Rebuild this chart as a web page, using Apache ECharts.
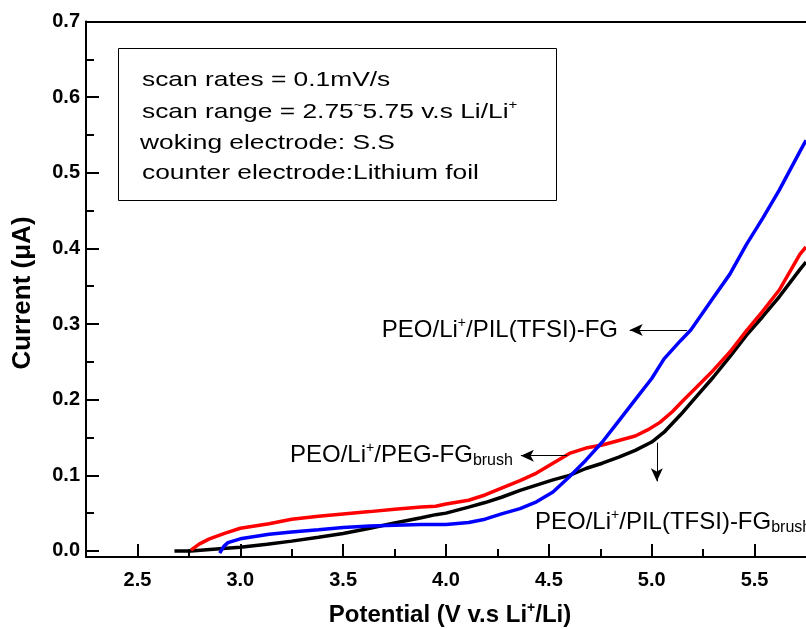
<!DOCTYPE html>
<html>
<head>
<meta charset="utf-8">
<script src="https://cdn.jsdelivr.net/npm/echarts@6/dist/echarts.min.js"></script>
<style>
  html, body { margin: 0; padding: 0; background: #fff; }
  #chart { width: 806px; height: 629px; }
</style>
</head>
<body>
<div id="chart"></div>
<script>
// [potential (V), current (uA)]
const blackPts = [
  [2.68, 0.000], [2.76, 0.000], [2.90, 0.003], [3.00, 0.005], [3.13, 0.009],
  [3.25, 0.013], [3.38, 0.018], [3.50, 0.023], [3.63, 0.030], [3.75, 0.037],
  [3.88, 0.044], [3.95, 0.048], [4.00, 0.050], [4.11, 0.058], [4.19, 0.064],
  [4.27, 0.071], [4.36, 0.080], [4.44, 0.087], [4.52, 0.094], [4.60, 0.100],
  [4.68, 0.109], [4.76, 0.116], [4.84, 0.124], [4.92, 0.133], [5.00, 0.144],
  [5.06, 0.157], [5.14, 0.180], [5.22, 0.205], [5.30, 0.230], [5.38, 0.257],
  [5.46, 0.285], [5.54, 0.310], [5.62, 0.336], [5.72, 0.372], [5.75, 0.382]
];
const redPts = [
  [2.76, 0.001], [2.80, 0.009], [2.85, 0.016], [2.92, 0.023], [3.00, 0.030],
  [3.07, 0.033], [3.14, 0.036], [3.25, 0.042], [3.38, 0.046], [3.50, 0.049],
  [3.63, 0.052], [3.75, 0.055], [3.88, 0.058], [3.95, 0.059], [4.00, 0.062],
  [4.11, 0.067], [4.19, 0.074], [4.27, 0.083], [4.36, 0.093], [4.44, 0.103],
  [4.52, 0.116], [4.60, 0.129], [4.68, 0.136], [4.76, 0.140], [4.84, 0.146],
  [4.92, 0.152], [4.98, 0.160], [5.04, 0.170], [5.10, 0.184], [5.16, 0.201],
  [5.22, 0.217], [5.30, 0.239], [5.38, 0.263], [5.46, 0.291], [5.54, 0.317],
  [5.62, 0.345], [5.72, 0.392], [5.75, 0.402]
];
const bluePts = [
  [2.90, -0.003], [2.92, 0.006], [2.94, 0.011], [3.00, 0.016], [3.07, 0.019],
  [3.14, 0.022], [3.25, 0.025], [3.38, 0.028], [3.50, 0.031], [3.63, 0.033],
  [3.75, 0.034], [3.88, 0.035], [4.00, 0.035], [4.11, 0.0375], [4.19, 0.042],
  [4.27, 0.049], [4.36, 0.056], [4.44, 0.065], [4.52, 0.078], [4.60, 0.098],
  [4.68, 0.120], [4.76, 0.144], [4.84, 0.172], [4.92, 0.200], [5.00, 0.228],
  [5.06, 0.254], [5.14, 0.278], [5.19, 0.292], [5.30, 0.335], [5.38, 0.366],
  [5.46, 0.405], [5.54, 0.440], [5.62, 0.477], [5.72, 0.528], [5.75, 0.543]
];

const xMajor = [2.5, 3.0, 3.5, 4.0, 4.5, 5.0, 5.5];
const xMinor = [2.75, 3.25, 3.75, 4.25, 4.75, 5.25];
const yMajor = [0, 0.1, 0.2, 0.3, 0.4, 0.5, 0.6, 0.7];
const yMinor = [0.05, 0.15, 0.25, 0.35, 0.45, 0.55, 0.65];

// arrows pointing from the curves to their labels: [from, to]
const arrows = [
  [[5.172, 0.292], [4.893, 0.292]],
  [[4.589, 0.126], [4.364, 0.126]],
  [[5.025, 0.143], [5.025, 0.092]]
];

const font = '"Liberation Sans", Arial, sans-serif';
const axisColor = '#000';
const xMin = 2.25, xMax = 5.75, yMin = -0.008, yMax = 0.7;

const lineBase = { color: axisColor, width: 2 };

const sup = { fontSize: 14, verticalAlign: 'top', lineHeight: 14, fontFamily: font };
const sub = { fontSize: 16, verticalAlign: 'bottom', lineHeight: 18, fontFamily: font };

function label(x, y, text, align) {
  return {
    type: 'text', x: x, y: y,
    style: {
      text: text, align: align || 'left', verticalAlign: 'middle', fill: '#000',
      font: '24px ' + font,
      rich: {
        a: { fontSize: 24, lineHeight: 28, fontFamily: font },
        sup: sup,
        sub: sub
      }
    }
  };
}

function boxLine(x, y, text) {
  return {
    type: 'text', x: x, y: y, scaleX: 1.255,
    style: {
      text: text, align: 'left', verticalAlign: 'middle', fill: '#000',
      font: '21px ' + font,
      rich: {
        a: { fontSize: 21, lineHeight: 25, fontFamily: font },
        sup: { fontSize: 12, verticalAlign: 'top', lineHeight: 12, fontFamily: font }
      }
    }
  };
}

const curve = (name, data, color) => ({
  name: name, type: 'line', data: data,
  showSymbol: false,
  lineStyle: { color: color, width: 3.5 }
});

const blackSeries = curve('PEO/Li+/PIL(TFSI)-FGbrush', blackPts, '#000000');
blackSeries.markLine = {
  silent: true, animation: false,
  symbol: ['none', 'arrow'], symbolSize: [9, 13],
  lineStyle: { color: '#000', width: 1, type: 'solid' },
  label: { show: false },
  data: arrows.map(a => [{ coord: a[0] }, { coord: a[1] }])
};

const chart = echarts.init(document.getElementById('chart'));
chart.setOption({
  animation: false,
  backgroundColor: '#fff',
  grid: { left: 86, top: 21.5, bottom: 72, right: -7 },
  xAxis: [
    {
      type: 'value', min: xMin, max: xMax, position: 'bottom',
      axisLine: { onZero: false, lineStyle: lineBase },
      axisTick: { inside: true, length: 13, customValues: xMajor, lineStyle: lineBase },
      axisLabel: {
        customValues: xMajor, formatter: v => v.toFixed(1), margin: 13,
        color: '#000', fontSize: 20, fontWeight: 'bold', fontFamily: font
      },
      splitLine: { show: false }
    },
    {
      type: 'value', min: xMin, max: xMax, position: 'bottom',
      axisLine: { show: false, onZero: false },
      axisTick: { inside: true, length: 8, customValues: xMinor, lineStyle: lineBase },
      axisLabel: { show: false },
      splitLine: { show: false }
    },
    {
      type: 'value', min: xMin, max: xMax, position: 'top',
      axisLine: { onZero: false, lineStyle: lineBase },
      axisTick: { show: false }, axisLabel: { show: false },
      splitLine: { show: false }
    }
  ],
  yAxis: [
    {
      type: 'value', min: yMin, max: yMax, position: 'left',
      axisLine: { onZero: false, lineStyle: lineBase },
      axisTick: { inside: true, length: 13, customValues: yMajor, lineStyle: lineBase },
      axisLabel: {
        customValues: yMajor, formatter: v => v.toFixed(1), margin: 6,
        color: '#000', fontSize: 20, fontWeight: 'bold', fontFamily: font
      },
      splitLine: { show: false }
    },
    {
      type: 'value', min: yMin, max: yMax, position: 'left',
      axisLine: { show: false, onZero: false },
      axisTick: { inside: true, length: 8, customValues: yMinor, lineStyle: lineBase },
      axisLabel: { show: false },
      splitLine: { show: false }
    }
  ],
  series: [
    blackSeries,
    curve('PEO/Li+/PEG-FGbrush', redPts, '#ff0000'),
    curve('PEO/Li+/PIL(TFSI)-FG', bluePts, '#0000ff')
  ],
  graphic: [
    {
      type: 'rect', shape: { x: 118.5, y: 48.5, width: 438, height: 152 },
      style: { fill: 'none', stroke: '#000', lineWidth: 1 }
    },
    boxLine(142, 80, '{a|scan rates = 0.1mV/s}'),
    boxLine(142, 112, '{a|scan range = 2.75}{sup|~}{a|5.75 v.s Li/Li}{sup|+}'),
    boxLine(140, 143, '{a|woking electrode: S.S}'),
    boxLine(142, 173, '{a|counter electrode:Lithium foil}'),
    label(618, 330, '{a|PEO/Li}{sup|+}{a|/PIL(TFSI)-FG}', 'right'),
    label(290, 455, '{a|PEO/Li}{sup|+}{a|/PEG-FG}{sub|brush}'),
    label(535, 522, '{a|PEO/Li}{sup|+}{a|/PIL(TFSI)-FG}{sub|brush}'),
    {
      type: 'text', x: 450, y: 615,
      style: {
        text: '{a|Potential (V v.s Li}{sup|+}{a|/Li)}', align: 'center', verticalAlign: 'middle',
        fill: '#000', font: 'bold 24px ' + font,
        rich: {
          a: { fontSize: 24, fontWeight: 'bold', lineHeight: 28, fontFamily: font },
          sup: { fontSize: 14, fontWeight: 'bold', verticalAlign: 'top', lineHeight: 14, fontFamily: font }
        }
      }
    },
    {
      type: 'text', x: 23, y: 293, rotation: Math.PI / 2,
      style: {
        text: 'Current (\u03bcA)', align: 'center', verticalAlign: 'middle',
        fill: '#000', font: 'bold 26px ' + font
      }
    }
  ]
});
</script>
</body>
</html>
